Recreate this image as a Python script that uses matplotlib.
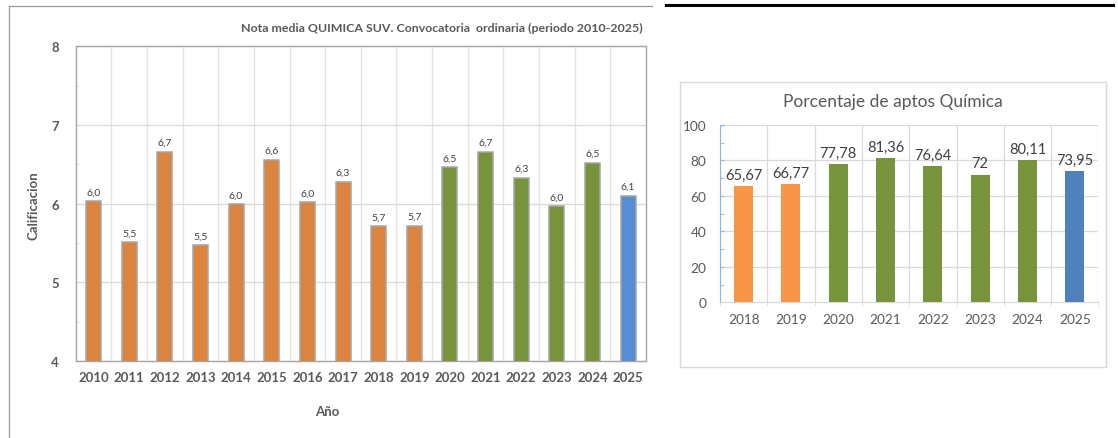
import matplotlib
matplotlib.use("Agg")
from matplotlib import pyplot as plt
from matplotlib.lines import Line2D
from matplotlib.patches import Rectangle
from matplotlib.ticker import MultipleLocator, FixedLocator

# Datos: nota media (grafico izquierdo)
years_nota = ["2010", "2011", "2012", "2013", "2014", "2015", "2016", "2017",
              "2018", "2019", "2020", "2021", "2022", "2023", "2024", "2025"]
nota_media = [6.03, 5.51, 6.66, 5.47, 5.99, 6.56, 6.02, 6.28,
              5.71, 5.72, 6.46, 6.66, 6.33, 5.97, 6.52, 6.10]
grupo_nota = ["o"] * 10 + ["g"] * 5 + ["b"]

# Datos: porcentaje de aptos (grafico derecho)
years_aptos = ["2018", "2019", "2020", "2021", "2022", "2023", "2024", "2025"]
aptos = [65.67, 66.77, 77.78, 81.36, 76.64, 72, 80.11, 73.95]
grupo_aptos = ["o", "o", "g", "g", "g", "g", "g", "b"]

W, H = 1118, 439
plt.rcParams['font.family'] = ['Lato', 'DejaVu Sans']

fig = plt.figure(figsize=(W / 100, H / 100), dpi=100)
fig.patch.set_facecolor("white")


def fx(x):
    return x / W


def fy(y):
    return 1 - y / H


# marcos
fig.add_artist(Line2D([fx(9.3), fx(9.3)], [fy(7.3), fy(439)], color="#999999", lw=0.9))
fig.add_artist(Line2D([fx(9.3), fx(652)], [fy(7.3), fy(7.3)], color="#999999", lw=0.9))
fig.add_artist(Line2D([fx(666), fx(1113)], [fy(5.7), fy(5.7)], color="black", lw=2.2))
fig.add_artist(Rectangle((fx(680.3), fy(368.3)), fx(1106.3) - fx(680.3), fy(83.3) - fy(368.3),
                         transform=fig.transFigure, fill=False, edgecolor="#D9D9D9", lw=1))

# ---------- grafico izquierdo ----------
col_l = {"o": "#DA843F", "g": "#77933C", "b": "#558ED5"}
gris = "#595959"

ax = fig.add_axes([fx(75.7), fy(362), fx(646) - fx(75.7), fy(47.3) - fy(362)])
x = range(len(years_nota))
ax.bar(x, nota_media, width=0.42, color=[col_l[g] for g in grupo_nota],
       edgecolor="#A6A6A6", lw=1.1, zorder=3)
ax.set_ylim(4, 8)
ax.set_xlim(-0.5, len(years_nota) - 0.5)
ax.yaxis.set_major_locator(MultipleLocator(1))
ax.yaxis.set_minor_locator(MultipleLocator(0.5))
ax.xaxis.set_major_locator(FixedLocator(list(x)))
ax.xaxis.set_minor_locator(FixedLocator([i + 0.5 for i in range(len(years_nota) - 1)]))
ax.set_xticklabels(years_nota)
ax.grid(axis="y", which="major", color="#D9D9D9", lw=0.9, zorder=0)
ax.grid(axis="x", which="minor", color="#E3E3E3", lw=0.9, zorder=0)
ax.tick_params(axis="x", which="both", length=0, labelsize=9.5, labelcolor=gris, pad=7)
ax.tick_params(axis="y", which="major", length=0, labelsize=9.5, labelcolor=gris, pad=12)
ax.tick_params(axis="y", which="minor", direction="in", length=2.5, color="#D9D9D9")
for lab in ax.get_xticklabels() + ax.get_yticklabels():
    lab.set_fontweight("bold")
for s in ax.spines.values():
    s.set_color("#A6A6A6")
    s.set_linewidth(1)
for i, v in enumerate(nota_media):
    ax.text(i, v + 0.06, f"{v:.1f}".replace(".", ","), ha="center", va="bottom",
            fontsize=7.5, color="#404040")

fig.text(fx(643), fy(28.3), "Nota media QUIMICA SUV. Convocatoria  ordinaria (periodo 2010-2025)",
         ha="right", va="center", fontsize=8.9, fontweight="bold", color=gris)
fig.text(fx(33.6), fy(206), "Calificacion", rotation=90, ha="center", va="center",
         fontsize=9.5, fontweight="bold", color=gris)
fig.text(fx(327), fy(412), "Año", ha="center", va="center",
         fontsize=9.5, fontweight="bold", color=gris)

# ---------- grafico derecho ----------
col_r = {"o": "#F79646", "g": "#77933C", "b": "#4F81BD"}

ax2 = fig.add_axes([fx(720), fy(303.3), fx(1098.4) - fx(720), fy(126) - fy(303.3)])
x2 = range(len(years_aptos))
ax2.bar(x2, aptos, width=0.4, color=[col_r[g] for g in grupo_aptos], zorder=3)
ax2.set_ylim(0, 100)
ax2.set_xlim(-0.5, len(years_aptos) - 0.5)
ax2.yaxis.set_major_locator(MultipleLocator(20))
ax2.yaxis.set_minor_locator(MultipleLocator(10))
ax2.xaxis.set_major_locator(FixedLocator(list(x2)))
ax2.xaxis.set_minor_locator(FixedLocator([i - 0.5 for i in range(len(years_aptos) + 1)]))
ax2.set_xticklabels(years_aptos)
ax2.grid(axis="y", which="major", color="#D9D9D9", lw=0.9, zorder=0)
ax2.grid(axis="x", which="minor", color="#D9D9D9", lw=0.9, zorder=0)
ax2.tick_params(axis="x", which="major", length=0, labelsize=9.8, labelcolor=gris, pad=8)
ax2.tick_params(axis="x", which="minor", direction="out", length=3, color="#D9D9D9")
ax2.tick_params(axis="y", which="major", direction="in", length=3, color="#8EB4E3",
                labelsize=9.8, labelcolor=gris, pad=10)
ax2.tick_params(axis="y", which="minor", direction="in", length=3, color="#8EB4E3")
for s in ["top", "right"]:
    ax2.spines[s].set_visible(False)
ax2.spines["left"].set_color("#8EB4E3")
ax2.spines["bottom"].set_color("#D9D9D9")
for i, v in enumerate(aptos):
    ax2.text(i, v + 2.5, f"{v:g}".replace(".", ","), ha="center", va="bottom",
             fontsize=10.5, color="#404040")

fig.text(fx(893), fy(101.7), "Porcentaje de aptos Química", ha="center", va="center",
         fontsize=12.5, color=gris)

fig.savefig("out.png", dpi=100, facecolor="white")
